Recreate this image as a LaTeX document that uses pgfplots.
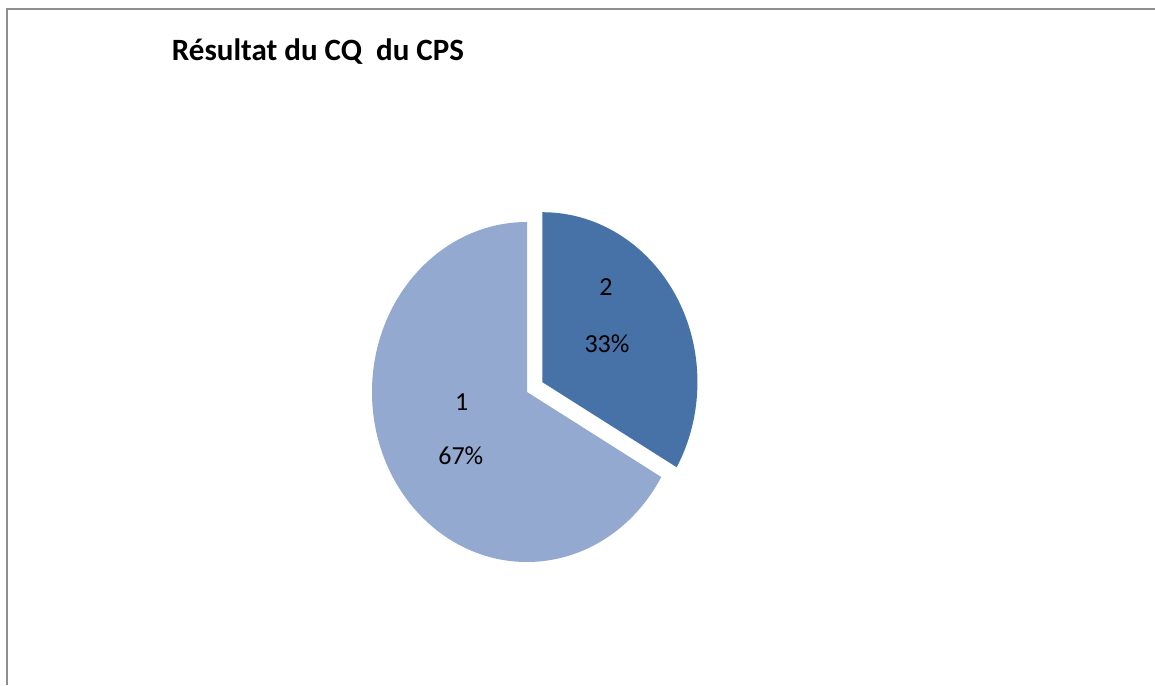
\documentclass[border=0pt]{standalone}
\usepackage{pgfplots}
\pgfplotsset{compat=1.18}
\usepackage{fontspec}
\setmainfont{Carlito}
\definecolor{sliceA}{HTML}{93A9CF}
\definecolor{sliceB}{HTML}{4672A8}
\definecolor{frameG}{HTML}{8E8E8E}
\begin{document}
\begin{tikzpicture}
\useasboundingbox (0,0) rectangle (1155pt,685pt);
\fill[white] (0,0) rectangle (1155pt,685pt);
\draw[frameG, line width=2.4pt] (7pt,0pt) -- (7pt,675.7pt) -- (1155pt,675.7pt);
\node[anchor=base west, inner sep=0pt, font=\fontsize{31}{36}\selectfont\bfseries] at (171.7pt,624.3pt) {Résultat du CQ~~du CPS};
% values: category 1 -> 2, category 2 -> 1
\def\va{2}\def\vb{1}
\pgfmathsetmacro\angB{360*\vb/(\va+\vb)}
\pgfmathsetmacro\endB{90-\angB}
\pgfmathsetmacro\midB{90-\angB/2}
\pgfmathsetmacro\exX{0.115*cos(\midB)}
\pgfmathsetmacro\exY{0.115*sin(\midB)}
\begin{axis}[
  at={(372pt,123pt)}, anchor=south west,
  width=310pt, height=340pt, scale only axis,
  xmin=-1, xmax=1, ymin=-1, ymax=1,
  hide axis, clip=false,
]
\fill[sliceA] (axis cs:0,0) -- (axis cs:0,1) arc[start angle=90, end angle=\endB+360, x radius=155pt, y radius=170pt] -- cycle;
\fill[sliceB] (axis cs:\exX,\exY) -- (axis cs:\exX,{1+\exY}) arc[start angle=90, end angle=\endB, x radius=155pt, y radius=170pt] -- cycle;
\node[font=\fontsize{26}{30}\selectfont] at (axis cs:0.510,0.618) {2};
\node[font=\fontsize{26}{30}\selectfont] at (axis cs:0.516,0.285) {33\%};
\node[font=\fontsize{26}{30}\selectfont] at (axis cs:-0.421,-0.058) {1};
\node[font=\fontsize{26}{30}\selectfont] at (axis cs:-0.427,-0.375) {67\%};
\end{axis}
\end{tikzpicture}
\end{document}
